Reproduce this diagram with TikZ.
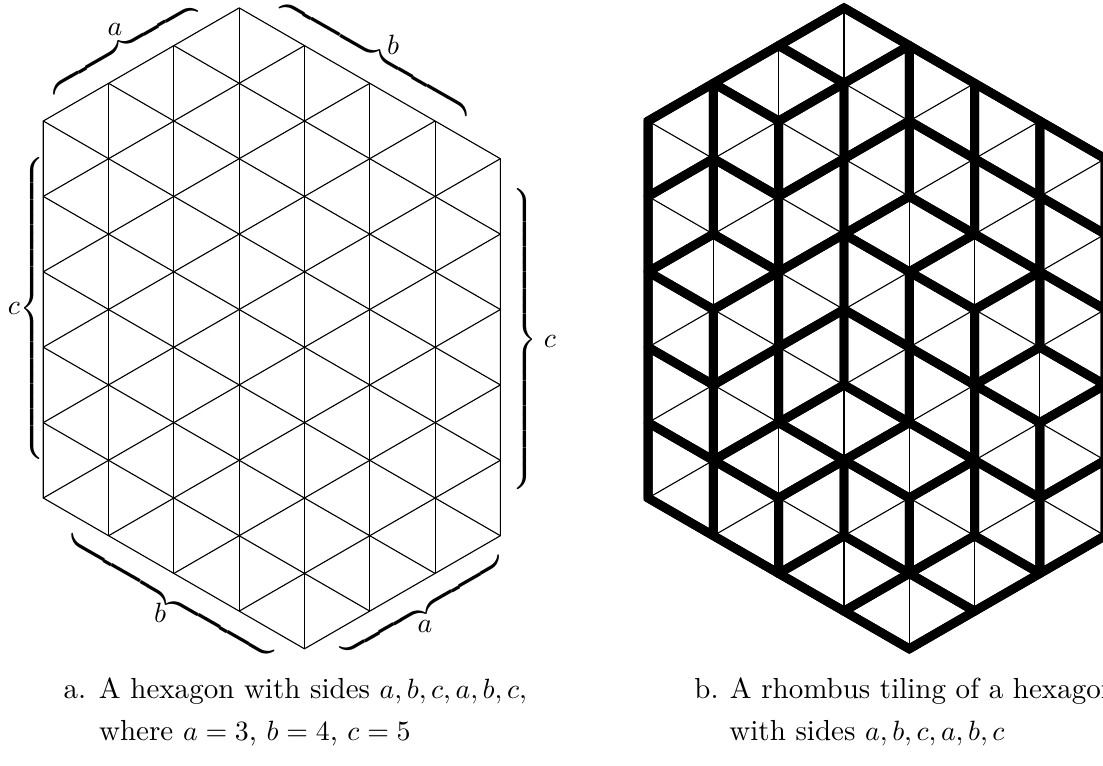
\documentclass[tikz,border=0pt]{standalone}
\delimiterfactor=1000
\delimitershortfall=0pt
\newcommand{\sidebrace}[1]{$\left.\vcenter{\hrule height #1 width 0pt}\right\}$}
\begin{document}
\begin{tikzpicture}[x=0.8227cm, y=-0.475cm,
  lattice/.style={line width=0.4pt},
  rhomb/.style={line width=3.2pt, line join=round},
  rim/.style={line width=3.2pt, line join=miter},
  sidebr/.style={inner sep=0pt, outer sep=0pt},
  lbl/.style={inner sep=0pt, font=\fontsize{10.4}{12}\selectfont},
  captext/.style={anchor=base west, inner sep=0pt, font=\fontsize{10.4}{12}\selectfont}]
  \useasboundingbox (-0.6631,-3.2095) rectangle (16.229,17.082);
  % Hexagon a: the triangular lattice
  \begin{scope}
    \clip (0,0) -- (3,-3) -- (7,1) -- (7,11) -- (4,14) -- (0,10) -- cycle;
    \foreach \i in {1,...,6} \draw[lattice] (\i,-4) -- (\i,16);
    \foreach \m in {2,4,...,16} \draw[lattice] (0,\m) -- (7,\m-7);
    \foreach \m in {-4,-2,...,8} \draw[lattice] (0,\m) -- (7,\m+7);
  \end{scope}
  \draw[lattice] (0,0) coordinate (aA) -- (3,-3) coordinate (aT) -- (7,1) coordinate (aR)
    -- (7,11) coordinate (aS) -- (4,14) coordinate (aB) -- (0,10) coordinate (aL) -- cycle;
  % braces and side labels
  \node[sidebr, rotate=120] (bra1) at (1.226,-1.92) {\sidebrace{59pt}};
  \node[lbl] (la1) at (1.099,-2.414) {$a$};
  \node[sidebr, rotate=60] (brb1) at (5.091,-1.676) {\sidebrace{77pt}};
  \node[lbl] (lb1) at (5.356,-2.016) {$b$};
  \node[sidebr, rotate=180] (brc1) at (-0.144,4.973) {\sidebrace{107pt}};
  \node[lbl] (lc1) at (-0.449,4.96) {$c$};
  \node[sidebr] (brc2) at (7.352,5.788) {\sidebrace{107pt}};
  \node[lbl] (lc2) at (7.760,5.854) {$c$};
  \node[sidebr, rotate=240] (brb2) at (1.949,12.624) {\sidebrace{83pt}};
  \node[lbl] (lb2) at (1.788,13.05) {$b$};
  \node[sidebr, rotate=-60] (bra2) at (5.803,12.87) {\sidebrace{65pt}};
  \node[lbl] (la2) at (5.845,13.408) {$a$};
  % Tiling b
  \begin{scope}[xshift=7.62cm]
    \begin{scope}
      \clip (0,0) -- (3,-3) -- (7,1) -- (7,11) -- (4,14) -- (0,10) -- cycle;
      \foreach \i in {1,...,6} \draw[lattice] (\i,-4) -- (\i,16);
      \foreach \m in {2,4,...,16} \draw[lattice] (0,\m) -- (7,\m-7);
      \foreach \m in {-4,-2,...,8} \draw[lattice] (0,\m) -- (7,\m+7);
    \end{scope}
    % flat rhombi (tops of the cubes)
    \foreach \i/\k in {3/-3,2/-2,1/3,4/2,5/3,2/8,4/8,6/6,4/12,5/11,3/7,3/11}
      \draw[rhomb] (\i,\k) -- (\i+1,\k+1) -- (\i,\k+2) -- (\i-1,\k+1) -- cycle;
    % upright rhombi, strip by strip
    \foreach \i/\p/\q in {0/0/-1,0/2/1,0/4/5,0/6/7,0/8/9,
                          1/-1/0,1/1/2,1/5/4,1/7/6,1/9/10,
                          2/0/-1,2/2/1,2/4/3,2/6/5,2/10/9,
                          3/-1/-2,3/1/0,3/3/4,3/5/6,3/9/10,
                          4/-2/-1,4/0/1,4/4/5,4/6/7,4/10/9,
                          5/-1/0,5/1/2,5/5/4,5/7/8,5/9/10,
                          6/0/1,6/2/3,6/4/5,6/8/7,6/10/9}
      \draw[rhomb] (\i,\p) -- (\i+1,\q) -- (\i+1,\q+2) -- (\i,\p+2) -- cycle;
    \draw[rim] (0,0) coordinate (bA) -- (3,-3) coordinate (bT) -- (7,1) coordinate (bR)
      -- (7,11) coordinate (bS) -- (4,14) coordinate (bB) -- (0,10) coordinate (bL) -- cycle;
  \end{scope}
  % captions
  \node[captext] (capa1) at (0.302,15.305) {\makebox[12.7pt][l]{a.}A hexagon with sides $a,b,c,a,b,c,$};
  \node[captext] (capa2) at (0.847,16.42) {where $a=3$, $b=4$, $c=5$};
  \node[captext] (capb1) at (9.963,15.305) {\makebox[12.7pt][l]{b.}A rhombus tiling of a hexagon};
  \node[captext] (capb2) at (10.5,16.42) {with sides $a,b,c,a,b,c$};
\end{tikzpicture}
\end{document}
